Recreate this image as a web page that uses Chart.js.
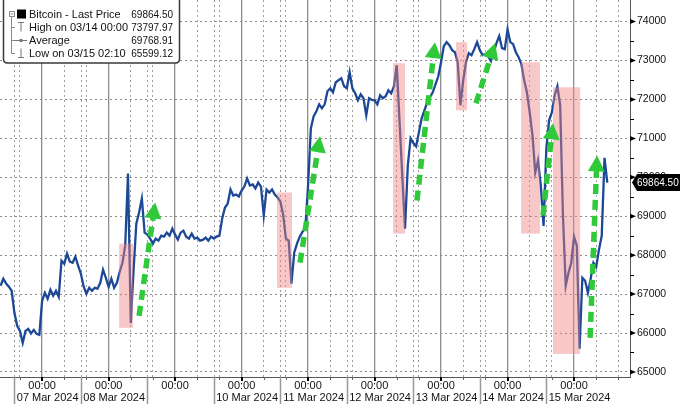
<!DOCTYPE html>
<html>
<head>
<meta charset="utf-8">
<script src="https://cdn.jsdelivr.net/npm/chart.js@4.4.0/dist/chart.umd.min.js"></script>
<style>
  html, body { margin: 0; padding: 0; background: #fff; }
  canvas { display: block; }
</style>
</head>
<body>
<canvas id="btc" width="680" height="404"></canvas>
<script>
// hourly prices, first sample at 06 Mar 09:00 (hour -15 from 07 Mar 00:00)
var firstHour = -15;
var prices = [
  67214, 67394, 67270, 67190, 67085, 66518, 66184, 66055, 65746, 66055,
  66107, 65990, 66080, 65980, 65952, 66828, 67034, 66879, 67111, 66956,
  67085, 66931, 67858, 67780, 68038, 67832, 67806, 67961, 67729, 67523,
  67188, 67008, 67162, 67085, 67162, 67140, 67291, 67626, 67420, 67188,
  67394, 67162, 67291, 67574, 67806, 68244, 70098, 66250, 67600, 68810,
  69094, 69455, 68579, 68527, 68424, 68296, 68424, 68373, 68502, 68476,
  68579, 68502, 68682, 68527, 68399, 68579, 68630, 68476, 68424, 68553,
  68424, 68450, 68373, 68390, 68450, 68373, 68476, 68424, 68476, 68502,
  68940, 69223, 69326, 69686, 69532, 69558, 69506, 69660, 69763, 69969,
  69789, 69815, 69712, 69866, 69763, 69017, 69686, 69609, 69686, 69558,
  69480, 69377, 69043, 68424, 68373, 67265, 68064, 68296, 68476, 68604,
  68682, 69789, 71257, 71566, 71695, 71875, 71772, 71875, 72210, 72287,
  72184, 72442, 72493, 72545, 72339, 72287, 72699, 72287, 72158, 71979,
  72133, 72030, 71592, 72030, 71990, 71979, 71875, 72107, 72030, 72081,
  72236, 72158, 72339, 72880, 71463, 70047, 68682, 70304, 70999, 70880,
  70794, 71154, 71515, 71721, 71927, 72056, 72184, 72390, 72596, 72957,
  73369, 73472, 73395, 73266, 73214, 72957, 71850, 72493, 72957, 73189,
  73137, 73292, 73472, 73266, 73137, 73163, 73111, 72983, 73214, 73446,
  73627, 73318, 73290, 73798, 73472, 73420, 73214, 73086, 72906, 72493,
  72184, 71669, 71077, 70124, 70433, 69789, 68750, 70742, 71463, 71669,
  72107, 72339, 71850, 69017, 67214, 67549, 67806, 68476, 68244, 65599,
  67420, 67343, 67034, 67394, 67806, 67700, 68141, 68500, 70500, 69864.5
];

var yTicks = [65000, 66000, 67000, 68000, 69000, 70000, 71000, 72000, 73000, 74000];
var yMinor = [65500, 66500, 67500, 68500, 69500, 70500, 71500, 72500, 73500];
var gridHours = [-8, 0, 8, 16, 24, 32, 40, 48, 56, 64, 72, 80, 88, 96, 104, 112, 120,
  128, 136, 144, 152, 160, 168, 176, 184, 192, 200, 208];
var dayBreaks = [-10, 14, 38, 62, 86, 110, 134, 158, 182];
var dates = ['07 Mar 2024', '08 Mar 2024', '', '10 Mar 2024', '11 Mar 2024',
  '12 Mar 2024', '13 Mar 2024', '14 Mar 2024', '15 Mar 2024'];

// red shaded zones
var boxStart = [27.8, 84.8, 126.7, 149.4, 172.9, 184.4];
var boxEnd = [32.8, 90.2, 131.0, 153.4, 179.7, 194.2];
var boxHigh = [68296, 69609, 72931, 73472, 72957, 72313];
var boxLow = [66133, 67162, 68553, 71721, 68553, 65463];

// green arrows
var arrowFromHour = [35.0, 93.1, 135.3, 156.6, 180.8, 197.8];
var arrowFromPrice = [66442, 67807, 69403, 71901, 69017, 65875];
var arrowToHour = [40.8, 100.3, 141.8, 163.5, 184.4, 200.3];
var arrowToPrice = [69352, 71052, 73472, 73446, 71386, 70562];

var legendLabels = ['Bitcoin - Last Price', 'High on 03/14 00:00', 'Average', 'Low on 03/15 02:10'];
var legendValues = ['69864.50', '73797.97', '69768.91', '65599.12'];
var lastPrice = 69864.50;

var FONT = '"Liberation Sans", Arial, sans-serif';
var GREEN = '#30c93a';

function drawArrow(ctx, x0, y0, x1, y1) {
    var dx = x1 - x0, dy = y1 - y0;
    var len = Math.sqrt(dx * dx + dy * dy);
    var ux = dx / len, uy = dy / len;
    var hl = 16, hw = 8.5;
    var bx = x1 - ux * hl, by = y1 - uy * hl;
    ctx.save();
    ctx.strokeStyle = GREEN;
    ctx.lineWidth = 5.5;
    ctx.setLineDash([10, 6]);
    ctx.beginPath();
    ctx.moveTo(x0, y0);
    ctx.lineTo(bx + ux * 2, by + uy * 2);
    ctx.stroke();
    ctx.setLineDash([]);
    ctx.fillStyle = GREEN;
    ctx.beginPath();
    ctx.moveTo(x1, y1);
    ctx.lineTo(bx - uy * hw, by + ux * hw);
    ctx.lineTo(bx + uy * hw, by - ux * hw);
    ctx.closePath();
    ctx.fill();
    ctx.restore();
}

function drawLegend(ctx) {
    ctx.save();
    var x = 3.5, y = -4, w = 176, h = 67, r = 4;
    ctx.beginPath();
    ctx.moveTo(x + r, y);
    ctx.lineTo(x + w - r, y);
    ctx.quadraticCurveTo(x + w, y, x + w, y + r);
    ctx.lineTo(x + w, y + h - r);
    ctx.quadraticCurveTo(x + w, y + h, x + w - r, y + h);
    ctx.lineTo(x + r, y + h);
    ctx.quadraticCurveTo(x, y + h, x, y + h - r);
    ctx.lineTo(x, y + r);
    ctx.quadraticCurveTo(x, y, x + r, y);
    ctx.closePath();
    ctx.fillStyle = '#fff';
    ctx.fill();
    ctx.strokeStyle = '#3a3a3a';
    ctx.lineWidth = 1.5;
    ctx.stroke();

    var rows = [14, 27, 40, 53];
    ctx.strokeStyle = '#8a8a8a';
    ctx.lineWidth = 1;
    ctx.beginPath();
    ctx.moveTo(11.5, 17); ctx.lineTo(11.5, 53.5);
    for (var i = 1; i < rows.length; i++) {
        ctx.moveTo(11.5, rows[i] + 0.5); ctx.lineTo(15, rows[i] + 0.5);
    }
    ctx.stroke();
    // collapse box
    ctx.fillStyle = '#fff';
    ctx.fillRect(9, 11, 6, 6);
    ctx.strokeRect(9.5, 11.5, 5, 5);
    ctx.beginPath(); ctx.moveTo(10.5, 14); ctx.lineTo(13.5, 14); ctx.stroke();
    // series square
    ctx.fillStyle = '#000';
    ctx.fillRect(17, 9.5, 9, 9);
    // high / average / low glyphs
    ctx.strokeStyle = '#777';
    ctx.beginPath();
    ctx.moveTo(18, rows[1] - 4.5); ctx.lineTo(24, rows[1] - 4.5);
    ctx.moveTo(21, rows[1] - 4.5); ctx.lineTo(21, rows[1] + 4.5);
    ctx.moveTo(15, rows[2] + 0.5); ctx.lineTo(27, rows[2] + 0.5);
    ctx.moveTo(21, rows[3] - 4.5); ctx.lineTo(21, rows[3] + 4.5);
    ctx.moveTo(18, rows[3] + 4.5); ctx.lineTo(24, rows[3] + 4.5);
    ctx.stroke();
    ctx.fillStyle = '#777';
    ctx.beginPath(); ctx.arc(21, rows[2] + 0.5, 1.8, 0, Math.PI * 2); ctx.fill();

    ctx.fillStyle = '#111';
    ctx.textBaseline = 'middle';
    for (var j = 0; j < rows.length; j++) {
        ctx.textAlign = 'left';
        ctx.font = '11px ' + FONT;
        ctx.fillText(legendLabels[j], 29, rows[j] + 1);
        ctx.textAlign = 'right';
        ctx.font = '10px ' + FONT;
        ctx.fillText(legendValues[j], 173, rows[j] + 1);
    }
    ctx.restore();
}

var overlay = {
    id: 'overlay',
    beforeDatasetsDraw: function (chart) {
        var ctx = chart.ctx, xs = chart.scales.x, area = chart.chartArea;
        ctx.save();
        ctx.strokeStyle = '#9a9a9a';
        ctx.lineWidth = 1;
        ctx.setLineDash([2, 3]);
        dayBreaks.forEach(function (h) {
            var px = Math.round(xs.getPixelForValue(h)) + 0.5;
            ctx.beginPath(); ctx.moveTo(px, area.top); ctx.lineTo(px, area.bottom); ctx.stroke();
        });
        ctx.restore();
    },
    afterDatasetsDraw: function (chart) {
        var ctx = chart.ctx, xs = chart.scales.x, ys = chart.scales.y;
        ctx.save();
        ctx.fillStyle = 'rgba(240, 130, 130, 0.45)';
        for (var i = 0; i < boxStart.length; i++) {
            var x0 = xs.getPixelForValue(boxStart[i]);
            var x1 = xs.getPixelForValue(boxEnd[i]);
            var y0 = ys.getPixelForValue(boxHigh[i]);
            var y1 = ys.getPixelForValue(boxLow[i]);
            ctx.fillRect(x0, y0, x1 - x0, y1 - y0);
        }
        ctx.restore();
        for (var k = 0; k < arrowFromHour.length; k++) {
            drawArrow(ctx,
                xs.getPixelForValue(arrowFromHour[k]), ys.getPixelForValue(arrowFromPrice[k]),
                xs.getPixelForValue(arrowToHour[k]), ys.getPixelForValue(arrowToPrice[k]));
        }
    },
    afterDraw: function (chart) {
        var ctx = chart.ctx, xs = chart.scales.x, ys = chart.scales.y, area = chart.chartArea;
        ctx.save();
        // x axis ticks
        gridHours.forEach(function (h) {
            var px = Math.round(xs.getPixelForValue(h));
            if (px < area.left || px > area.right) return;
            if (h % 24 === 0) {
                ctx.fillStyle = '#000';
                ctx.fillRect(px - 1, area.bottom, 2, 4);
            } else {
                ctx.fillStyle = '#666';
                ctx.fillRect(px, area.bottom, 1, 3);
            }
        });
        // day separators and date row
        ctx.strokeStyle = '#999';
        ctx.lineWidth = 1.5;
        ctx.font = '11px ' + FONT;
        ctx.fillStyle = '#111';
        ctx.textAlign = 'center';
        ctx.textBaseline = 'middle';
        dayBreaks.forEach(function (h, i) {
            var px = Math.round(xs.getPixelForValue(h)) + 0.5;
            ctx.beginPath(); ctx.moveTo(px, area.bottom); ctx.lineTo(px, 404); ctx.stroke();
            var cx = (xs.getPixelForValue(h) + xs.getPixelForValue(h + 24)) / 2;
            if (dates[i]) ctx.fillText(dates[i], cx, 398);
        });
        // y axis tick marks
        ctx.fillStyle = '#000';
        yTicks.forEach(function (v) {
            var py = ys.getPixelForValue(v);
            ctx.beginPath();
            ctx.moveTo(area.right, py - 2.5);
            ctx.lineTo(area.right + 6, py);
            ctx.lineTo(area.right, py + 2.5);
            ctx.closePath();
            ctx.fill();
        });
        yMinor.forEach(function (v) {
            var py = Math.round(ys.getPixelForValue(v));
            ctx.fillRect(area.right, py, 4, 1);
        });
        // last price tag
        var ty = ys.getPixelForValue(lastPrice);
        ctx.fillStyle = '#000';
        ctx.beginPath();
        ctx.moveTo(632, ty);
        ctx.lineTo(637, ty - 8.5);
        ctx.lineTo(680, ty - 8.5);
        ctx.lineTo(680, ty + 8.5);
        ctx.lineTo(637, ty + 8.5);
        ctx.closePath();
        ctx.fill();
        ctx.fillStyle = '#fff';
        ctx.font = '10px ' + FONT;
        ctx.textAlign = 'left';
        ctx.fillText(lastPrice.toFixed(2), 637, ty + 0.5);
        ctx.restore();
        drawLegend(ctx);
    }
};

var series = prices.map(function (p, i) {
    return { x: firstHour + i, y: p };
});

var ctx = document.getElementById('btc').getContext('2d');
var btcChart = new Chart(ctx, {
    type: 'line',
    data: {
        datasets: [{
            data: series,
            borderColor: '#1c4896',
            borderWidth: 2.3,
            pointRadius: 0,
            tension: 0
        }]
    },
    options: {
        responsive: false,
        animation: false,
        devicePixelRatio: 1,
        layout: { padding: 0 },
        plugins: { legend: { display: false }, tooltip: { enabled: false } },
        scales: {
            x: {
                type: 'linear',
                min: -15.2,
                max: 212.2,
                afterBuildTicks: function (s) {
                    s.ticks = gridHours.map(function (v) { return { value: v }; });
                },
                afterFit: function (s) {
                    s.height = 27;
                    s.paddingLeft = 0; s.paddingRight = 0;
                },
                grid: {
                    drawTicks: false,
                    color: function (c) {
                        return (c.tick && c.tick.value % 24 === 0) ? '#8e8e8e' : '#a0a0a0';
                    },
                    lineWidth: function (c) {
                        return (c.tick && c.tick.value % 24 === 0) ? 1.3 : 1;
                    }
                },
                border: {
                    display: true,
                    color: '#555',
                    width: 1,
                    dash: function (c) {
                        return (c.tick && c.tick.value % 24 === 0) ? [] : [2, 3];
                    }
                },
                ticks: {
                    autoSkip: false,
                    maxRotation: 0,
                    padding: 2,
                    color: '#111',
                    font: { family: FONT, size: 11 },
                    callback: function (v) { return v % 24 === 0 ? '00:00' : ''; }
                }
            },
            y: {
                position: 'right',
                min: 64870,
                max: 74555,
                afterBuildTicks: function (s) {
                    s.ticks = yTicks.map(function (v) { return { value: v }; });
                },
                afterFit: function (s) {
                    s.width = 50;
                    s.paddingTop = 0; s.paddingBottom = 0;
                },
                grid: { drawTicks: false, color: '#8a8a8a', lineWidth: 1 },
                border: { display: true, color: '#555', width: 1, dash: [2, 3] },
                ticks: {
                    padding: 7,
                    color: '#111',
                    font: { family: FONT, size: 10.5 },
                    callback: function (v) { return String(v); }
                }
            }
        }
    },
    plugins: [overlay]
});
</script>
</body>
</html>
